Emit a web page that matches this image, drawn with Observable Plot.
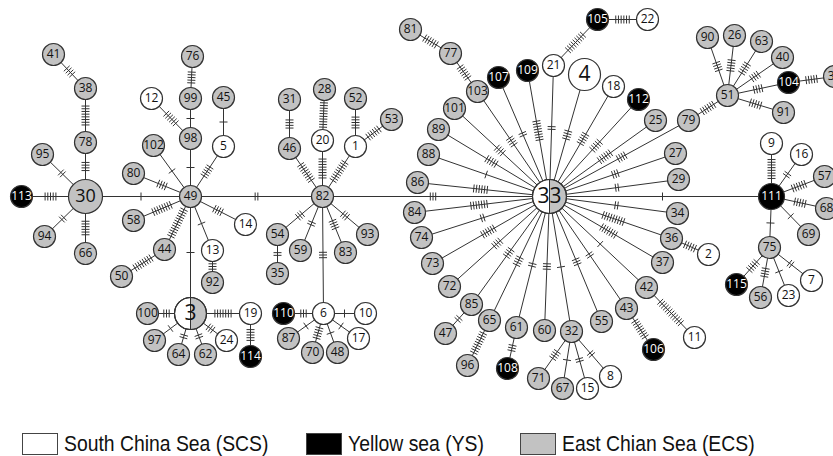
<!DOCTYPE html>
<html><head><meta charset="utf-8">
<script src="https://cdn.jsdelivr.net/npm/d3@7"></script>
<script src="https://cdn.jsdelivr.net/npm/@observablehq/plot@0.6"></script>
<style>
body{margin:0;background:#fff}
#wrap{position:relative;width:833px;height:456px;overflow:hidden}
.legend{position:absolute;top:431px;left:0;width:833px;height:24px;font-family:"Liberation Sans",Arial,sans-serif;font-size:22px;color:#111}
.legend .item{position:absolute;top:0;display:flex;align-items:center}
.legend .sw{width:36px;height:22px;border:1px solid #444;box-sizing:border-box;margin-right:6px}
.legend span{display:inline-block;transform:scaleX(0.88);transform-origin:left center;white-space:nowrap}
</style></head>
<body><div id="wrap"><div id="chart"></div>
<div class="legend">
 <div class="item" style="left:22px"><div class="sw" style="background:#fff"></div><span>South China Sea (SCS)</span></div>
 <div class="item" style="left:306px"><div class="sw" style="background:#000"></div><span>Yellow sea (YS)</span></div>
 <div class="item" style="left:520px"><div class="sw" style="background:#c2c2c2"></div><span>East Chian Sea (ECS)</span></div>
</div></div>
<script>
// Haplotype groups by sea
const scsHaplotypes = ["12","5","14","13","19","24","20","1","6","10","17","21","22","4","18","2","11","8","15","9","16","23","7"];
const ysHaplotypes = ["113","114","110","107","109","105","112","106","108","104","111","115"];
const mixedHaplotypes = ["3","33"]; // SCS + ECS shared
// all others: ECS

// Network links: [haplotype A, haplotype B, number of mutation steps]
const links = [
 ["113","30",5],["30","49",1],["49","82",2],["82","33",3],["33","111",1],
 ["30","78",4],["78","38",8],["38","41",4],["30","95",2],["30","94",2],["30","66",6],
 ["49","98",1],["98","99",1],["99","76",5],["98","12",6],["49","5",5],["5","45",1],["49","102",1],
 ["49","80",4],["49","58",8],["49","44",12],["44","50",8],["49","14",4],["49","13",1],["13","92",3],["49","3",1],
 ["3","100",3],["3","19",7],["19","114",5],["3","97",1],["3","64",2],["3","62",2],["3","24",3],
 ["82","46",8],["46","31",4],["82","20",8],["20","28",10],["82","1",9],["1","52",5],["1","53",6],
 ["82","54",3],["54","35",2],["82","59",2],["82","83",4],["82","93",3],["82","6",3],
 ["6","110",3],["6","10",1],["6","87",1],["6","70",5],["6","48",1],["6","17",1],
 ["33","103",4],["103","77",6],["77","81",6],["33","107",2],["33","109",8],["33","21",2],["21","105",9],["105","22",6],
 ["33","4",4],["33","18",5],["33","112",5],["33","25",6],["33","79",4],["33","27",3],["33","29",2],["33","34",2],
 ["33","36",9],["36","2",5],["33","37",7],["33","42",1],["42","11",12],["33","43",2],["43","106",8],["33","55",3],
 ["33","32",1],["32","71",4],["32","67",1],["32","15",2],["32","8",2],["33","60",3],["33","61",2],["61","108",3],
 ["33","65",4],["65","96",9],["33","85",4],["85","47",2],["33","72",4],["33","73",6],["33","74",2],["33","84",7],
 ["33","86",6],["33","88",1],["33","89",5],["33","101",4],
 ["79","51",6],["51","90",4],["51","26",5],["51","63",5],["51","40",4],["51","104",4],["104","39",5],["51","91",5],
 ["111","9",8],["111","16",2],["111","57",6],["111","68",5],["111","69",1],["111","75",1],
 ["75","115",5],["75","56",4],["75","23",1],["75","7",2]
];

// Network layout (drawing positions of each haplotype)
const layout = {
 "113":[21,196],"30":[85,196],"49":[190,196],"82":[322,196],"33":[549,196],"111":[771,196],
 "78":[85,142],"38":[85,88],"41":[53,54],"95":[42,154],"94":[44,236],"66":[85,253],
 "98":[190,138],"99":[190,98],"76":[192,56],"12":[151,98],"45":[223,97],"5":[223,146],"102":[153,145],
 "80":[133,173],"58":[133,220],"44":[164,249],"50":[121,276],"14":[245,224],"13":[212,250],"92":[212,282],"3":[190,313],
 "100":[147,313],"19":[250,313],"114":[250,356],"97":[154,340],"64":[178,354],"62":[205,354],"24":[226,340],
 "46":[289,148],"31":[289,99],"20":[322,140],"28":[324,89],"1":[355,146],"52":[355,98],"53":[391,119],
 "54":[277,234],"35":[277,273],"59":[300,250],"83":[345,252],"93":[367,234],"6":[323,313],
 "110":[283,313],"10":[365,313],"87":[288,338],"70":[312,352],"48":[337,352],"17":[358,338],
 "103":[477,91],"77":[450,53],"81":[410,29],"107":[498,77],"109":[527,70],"21":[553,65],"105":[597,19],"22":[647,19],
 "4":[584,74],"18":[613,86],"112":[638,99],"25":[655,120],"79":[688,120],"27":[675,153],"29":[678,179],"34":[677,213],
 "36":[671,238],"2":[708,254],"37":[662,262],"42":[646,287],"11":[694,337],"43":[626,308],"106":[653,349],"55":[601,321],
 "32":[571,331],"71":[538,378],"67":[562,388],"15":[587,388],"8":[610,376],"60":[544,330],"61":[516,327],"108":[507,368],
 "65":[489,320],"96":[467,365],"85":[471,304],"47":[445,333],"72":[449,286],"73":[432,263],"74":[421,237],"84":[414,212],
 "86":[417,182],"88":[428,154],"89":[438,129],"101":[454,108],
 "51":[727,95],"90":[707,37],"26":[734,35],"63":[761,41],"40":[782,57],"104":[788,82],"39":[834,76],"91":[783,112],
 "9":[771,143],"16":[801,154],"57":[824,176],"68":[826,208],"69":[808,234],"75":[769,247],
 "115":[736,284],"56":[760,297],"23":[788,295],"7":[811,280]
};
const nodeRadius = {"30":17,"3":16,"33":17,"4":16,"111":13};
const labelSize = {"30":18,"3":21,"33":21,"4":21};

const ids = Object.keys(layout);
const regionOf = id => scsHaplotypes.includes(id) ? "SCS" : ysHaplotypes.includes(id) ? "YS" : mixedHaplotypes.includes(id) ? "MIX" : "ECS";
const fillOf = {SCS:"#ffffff", YS:"#000000", ECS:"#c2c2c2", MIX:"#c2c2c2"};
const nodes = ids.map(id => ({id, x: layout[id][0], y: layout[id][1], r: nodeRadius[id] ?? 11, region: regionOf(id)}));
const byId = new Map(nodes.map(n => [n.id, n]));
const edges = links.map(([a,b,m]) => ({a: byId.get(a), b: byId.get(b), m}));

// mutation hatch marks derived from the link data
const hatches = [];
for (const {a,b,m} of edges) {
  const dx = b.x - a.x, dy = b.y - a.y, L = Math.hypot(dx,dy);
  const ux = dx/L, uy = dy/L, nx = -uy, ny = ux;
  const c = a.r + (L - a.r - b.r)/2;
  const sp = 2.7, h = 4;
  for (let k = 0; k < m; k++) {
    const t = c + (k - (m-1)/2)*sp;
    const px = a.x + ux*t, py = a.y + uy*t;
    hatches.push({x1: px - nx*h, y1: py - ny*h, x2: px + nx*h, y2: py + ny*h});
  }
}

const halfLeft = {draw(ctx, size){ const r = Math.sqrt(size/Math.PI); ctx.moveTo(0,-r); ctx.arc(0,0,r,-Math.PI/2,Math.PI/2,true); ctx.closePath(); }};

const chart = Plot.plot({
  width: 833, height: 420, margin: 0,
  x: {domain:[0,833], range:[0,833], axis:null},
  y: {domain:[0,420], range:[0,420], axis:null},
  r: {type:"identity"},
  color: {type:"identity"},
  style: {background:"#fff"},
  marks: [
    Plot.link(edges, {x1: d=>d.a.x, y1: d=>d.a.y, x2: d=>d.b.x, y2: d=>d.b.y, stroke:"#333", strokeWidth:1}),
    Plot.link(hatches, {x1:"x1", y1:"y1", x2:"x2", y2:"y2", stroke:"#333", strokeWidth:1}),
    Plot.dot(nodes, {x:"x", y:"y", r:"r", fill: d=>fillOf[d.region], stroke:"#333", strokeWidth:1.2}),
    Plot.dot(nodes.filter(d=>d.region==="MIX"), {x:"x", y:"y", r:"r", symbol: halfLeft, fill:"#fff", stroke:"#333", strokeWidth:1}),
    Plot.dot(nodes.filter(d=>d.region==="MIX"), {x:"x", y:"y", r:"r", fill:"none", stroke:"#333", strokeWidth:1.2}),
    Plot.text(nodes, {x:"x", y:"y", text:"id", fill: d=> d.region==="YS" ? "#fff" : "#111",
      fontSize: d=> labelSize[d.id] ?? 12, fontWeight: d=> d.region==="YS" ? 700 : 600,
      fontFamily:"Open Sans", letterSpacing: d=> d.id.length>2 ? "-0.6px" : "0px"})
  ]
});
document.getElementById("chart").appendChild(chart);
</script></body></html>
